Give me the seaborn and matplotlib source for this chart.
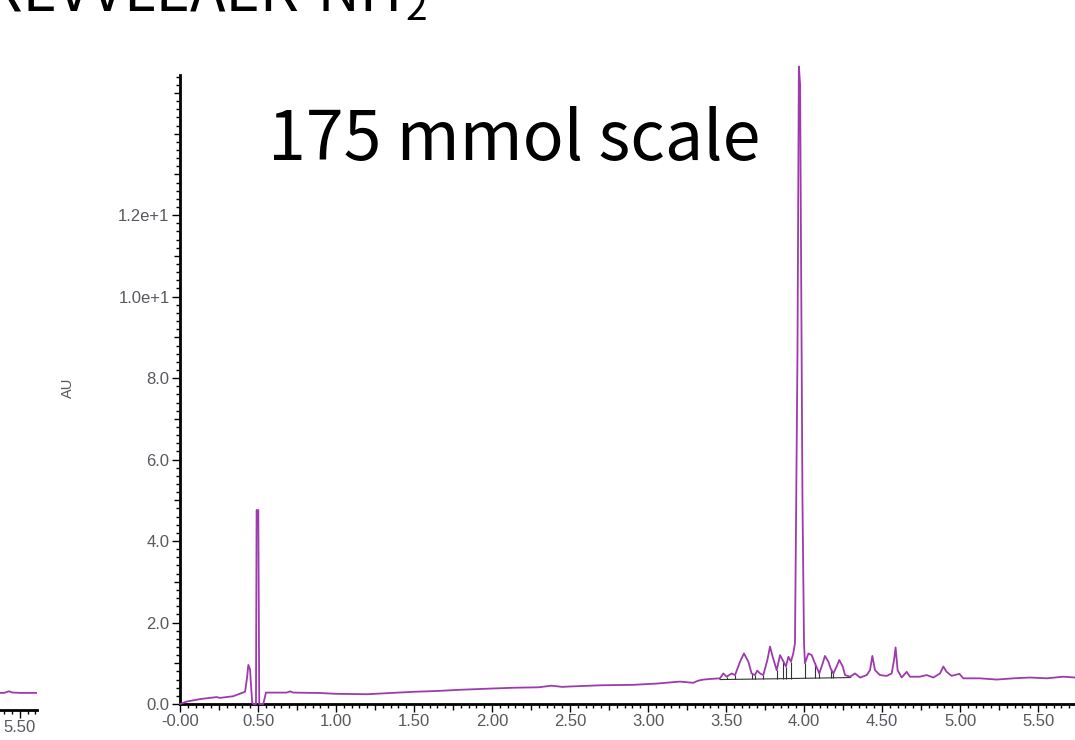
import numpy as np
import pandas as pd
import matplotlib
matplotlib.use("Agg")
import matplotlib.pyplot as plt
import seaborn as sns

# ---------------- data ----------------
time_min = [0.000, 0.043, 0.128, 0.235, 0.256, 0.340, 0.417, 0.430, 0.438, 0.449, 0.455, 0.463,
            0.470, 0.487, 0.491, 0.502, 0.508, 0.534, 0.551, 0.684, 0.705, 0.726, 0.897,
            1.000, 1.200, 1.350, 1.500, 1.650, 1.800, 2.000, 2.150, 2.300, 2.380, 2.450,
            2.500, 2.700, 2.900, 3.050, 3.205, 3.290, 3.320, 3.355, 3.419, 3.461, 3.483,
            3.504, 3.536, 3.558, 3.590, 3.615, 3.643, 3.664, 3.686, 3.700, 3.718, 3.739,
            3.765, 3.782, 3.799, 3.825, 3.846, 3.863, 3.884, 3.900, 3.916, 3.931, 3.942,
            3.950, 3.958, 3.967, 3.975, 3.980, 3.990, 4.000, 4.006, 4.028, 4.049, 4.070,
            4.098, 4.120, 4.134, 4.156, 4.171, 4.188, 4.209, 4.226, 4.248, 4.263, 4.295,
            4.327, 4.359, 4.402, 4.423, 4.438, 4.455, 4.487, 4.530, 4.562, 4.577, 4.587,
            4.600, 4.626, 4.658, 4.679, 4.743, 4.786, 4.829, 4.872, 4.893, 4.914, 4.946,
            4.996, 5.021, 5.128, 5.235, 5.342, 5.449, 5.555, 5.662, 5.737]
absorbance = [0.00, 0.06, 0.12, 0.17, 0.15, 0.19, 0.30, 0.65, 0.96, 0.85, 0.47, 0.03,
              0.00, 0.00, 4.76, 4.76, 0.00, 0.00, 0.28, 0.28, 0.31, 0.28, 0.27,
              0.25, 0.24, 0.27, 0.30, 0.32, 0.35, 0.38, 0.40, 0.41, 0.45, 0.42,
              0.43, 0.46, 0.47, 0.50, 0.55, 0.52, 0.57, 0.60, 0.62, 0.63, 0.75,
              0.67, 0.75, 0.71, 1.04, 1.24, 1.04, 0.75, 0.71, 0.82, 0.75, 0.71,
              1.08, 1.41, 1.16, 0.83, 1.20, 1.08, 0.92, 1.16, 1.04, 1.24, 1.49,
              5.00, 8.60, 15.65, 15.20, 11.70, 5.00, 1.50, 1.00, 1.24, 1.20, 1.00,
              0.75, 1.00, 1.18, 1.04, 0.87, 0.75, 0.92, 1.08, 0.92, 0.71, 0.67,
              0.75, 0.65, 0.71, 0.83, 1.18, 0.83, 0.71, 0.69, 0.75, 1.08, 1.39,
              0.83, 0.65, 0.79, 0.67, 0.67, 0.71, 0.65, 0.75, 0.92, 0.79, 0.69,
              0.74, 0.63, 0.63, 0.60, 0.63, 0.65, 0.63, 0.67, 0.65]

# integration baselines (black) and drop lines
base_x = [3.46, 3.83, 3.83, 4.30]
base_y = [0.60, 0.62, 0.62, 0.65]
drop_x = [3.504, 3.558, 3.664, 3.686, 3.739, 3.825, 3.863, 3.884, 3.916, 4.006, 4.070, 4.098, 4.171, 4.188]
drop_top = [0.67, 0.71, 0.75, 0.71, 0.71, 0.83, 1.08, 0.92, 1.04, 1.00, 1.00, 0.75, 0.87, 0.75]

# neighbouring (cropped) chromatogram on the left
prev_time = [5.20, 5.30, 5.40, 5.43, 5.45, 5.50, 5.62]
prev_abs = [0.42, 0.42, 0.42, 0.46, 0.43, 0.42, 0.42]

x_ticks = [0.0, 0.5, 1.0, 1.5, 2.0, 2.5, 3.0, 3.5, 4.0, 4.5, 5.0, 5.5]
x_tick_labels = ["-0.00", "0.50", "1.00", "1.50", "2.00", "2.50", "3.00", "3.50", "4.00", "4.50", "5.00", "5.50"]
y_ticks = [0, 2, 4, 6, 8, 10, 12]
y_tick_labels = ["0.0", "2.0", "4.0", "6.0", "8.0", "1.0e+1", "1.2e+1"]

title_text = "175 mmol scale"
top_text = "KREVVLEAEK-NH"
top_sub = "2"
y_label = "AU"

# ---------------- drawing ----------------
sns.set_style("ticks")
plt.rcParams['font.family'] = ['Liberation Sans', 'DejaVu Sans']

W, H = 1075, 740
fig = plt.figure(figsize=(W / 100, H / 100), dpi=100)

PURPLE = "#9E3AAE"
TICKC = "#585860"

def style_axes(ax):
    for s in ["top", "right"]:
        ax.spines[s].set_visible(False)
    for s in ["left", "bottom"]:
        ax.spines[s].set_linewidth(2.0)
        ax.spines[s].set_color("black")
    ax.tick_params(which="major", direction="out", length=6, width=1, color="black",
                   labelcolor=TICKC, labelsize=12, pad=1.5)
    ax.tick_params(which="minor", direction="out", length=3, width=1, color="black")
    ax.set_xlabel("")
    ax.set_ylabel("")

# main axes
ax = fig.add_axes([180 / W, 36 / H, (W - 180) / W, (704 - 75) / H])
df = pd.DataFrame({"t": time_min, "au": absorbance})
sns.lineplot(data=df, x="t", y="au", ax=ax, sort=False, estimator=None,
             color=PURPLE, lw=1.3, clip_on=False, zorder=3)
ax.plot(base_x[:2], base_y[:2], color="#333333", lw=0.8, zorder=2)
ax.plot(base_x[2:], base_y[2:], color="#333333", lw=0.8, zorder=2)
ax.vlines(drop_x, [np.interp(x, base_x, base_y) for x in drop_x], drop_top,
          color="#333333", lw=0.8, zorder=2)
ax.set_xlim(0, 5.737)
ax.set_ylim(0, 15.44)
style_axes(ax)
ax.set_xticks(x_ticks)
ax.set_xticklabels(x_tick_labels)
ax.set_xticks(np.round(np.arange(0, 5.75, 0.05), 2), minor=True)
ax.set_yticks(y_ticks)
ax.set_yticklabels(y_tick_labels)
ax.set_yticks(np.round(np.arange(0, 15.45, 0.2), 1), minor=True)
# medium ticks
for loc, t in zip(ax.xaxis.get_minorticklocs(), ax.xaxis.get_minor_ticks()):
    if abs(loc / 0.25 - round(loc / 0.25)) < 1e-6:
        t.tick1line.set_markersize(4.5)
for loc, t in zip(ax.yaxis.get_minorticklocs(), ax.yaxis.get_minor_ticks()):
    if abs(loc - round(loc)) < 1e-6:
        t.tick1line.set_markersize(4.5)

# left neighbouring axes (cropped)
ax2 = fig.add_axes([37 / W - 0.2, 30 / H, 0.2, (704 - 75) / H])
df2 = pd.DataFrame({"t": prev_time, "au": prev_abs})
sns.lineplot(data=df2, x="t", y="au", ax=ax2, sort=False, estimator=None,
             color=PURPLE, lw=1.3)
span = 0.2 * W / 156
ax2.set_xlim(5.61 - span, 5.61)
ax2.set_ylim(0, 15.44)
style_axes(ax2)
ax2.spines["left"].set_visible(False)
ax2.set_yticks([])
ax2.set_xticks([5.0, 5.5])
ax2.set_xticklabels(["5.00", "5.50"])
ax2.set_xticks(np.round(np.arange(4.3, 5.62, 0.05), 2), minor=True)

# texts
fig.text(68 / W, 1 - 388 / H, y_label, rotation=90, ha="center", va="center",
         fontsize=10.5, color=TICKC)
fig.text(268 / W, 1 - 160 / H, title_text, ha="left", va="baseline",
         fontsize=49, color="black", family=["Noto Sans CJK JP", "DejaVu Sans"])
fig.text(402 / W, 1 - 12 / H, top_text, ha="right", va="baseline",
         fontsize=42, color="black", family=["Noto Sans CJK JP", "DejaVu Sans"])
fig.text(405 / W, 1 - 20 / H, top_sub, ha="left", va="baseline",
         fontsize=28, color="black", family=["Noto Sans CJK JP", "DejaVu Sans"])

fig.savefig("out.png", dpi=100, facecolor="white")
